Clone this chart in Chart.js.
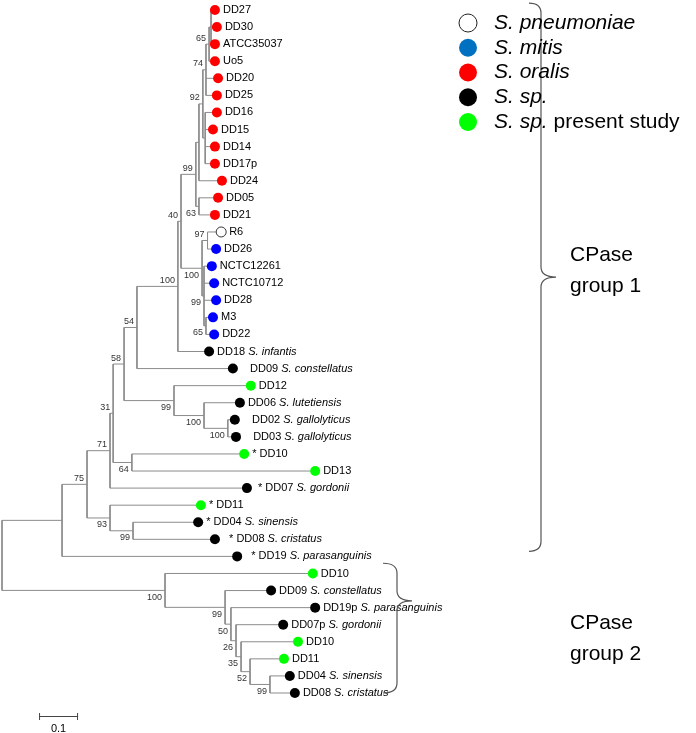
<!DOCTYPE html>
<html>
<head>
<meta charset="utf-8">
<script src="https://cdn.jsdelivr.net/npm/chart.js"></script>
<style>
  body { margin: 0; background: #fff; }
  canvas { display: block; }
</style>
</head>
<body>
<canvas id="tree" width="696" height="733"></canvas>
<script>
// leaves, top to bottom (row = index)
const leafNames = ['DD27', 'DD30', 'ATCC35037', 'Uo5', 'DD20', 'DD25', 'DD16', 'DD15', 'DD14', 'DD17p',
  'DD24', 'DD05', 'DD21', 'R6', 'DD26', 'NCTC12261', 'NCTC10712', 'DD28', 'M3', 'DD22',
  'DD18', '   DD09', 'DD12', 'DD06', '   DD02', '   DD03', '* DD10', 'DD13', ' * DD07', '* DD11',
  '* DD04', '  * DD08', '  * DD19',
  'DD10', 'DD09', 'DD19p', 'DD07p', 'DD10', 'DD11', 'DD04', 'DD08']
const leafSpecies = ['', '', '', '', '', '', '', '', '', '',
  '', '', '', '', '', '', '', '', '', '',
  'S. infantis', 'S. constellatus', '', 'S. lutetiensis', 'S. gallolyticus', 'S. gallolyticus', '', '', 'S. gordonii', '',
  'S. sinensis', 'S. cristatus', 'S. parasanguinis',
  '', 'S. constellatus', 'S. parasanguinis', 'S. gordonii', '', '', 'S. sinensis', 'S. cristatus']
const leafGroup = ['oralis', 'oralis', 'oralis', 'oralis', 'oralis', 'oralis', 'oralis', 'oralis', 'oralis', 'oralis',
  'oralis', 'oralis', 'oralis', 'pneumoniae', 'mitis', 'mitis', 'mitis', 'mitis', 'mitis', 'mitis',
  'sp', 'sp', 'present', 'sp', 'sp', 'sp', 'present', 'present', 'sp', 'present',
  'sp', 'sp', 'sp',
  'present', 'sp', 'sp', 'sp', 'present', 'present', 'sp', 'sp']
// distance from root to each leaf
const leafDist = [0.546, 0.551, 0.546, 0.546, 0.554, 0.551, 0.551, 0.541, 0.546, 0.546,
  0.564, 0.554, 0.546, 0.562, 0.549, 0.538, 0.544, 0.549, 0.541, 0.544,
  0.531, 0.592, 0.638, 0.610, 0.597, 0.600, 0.621, 0.803, 0.628, 0.510,
  0.503, 0.546, 0.603,
  0.797, 0.690, 0.803, 0.721, 0.759, 0.723, 0.738, 0.751]

// internal nodes: numbers in kids are leaf rows, strings are other nodes
const nodeNames = ['root', 'g1', 'n75', 'n71', 'n31', 'n58', 'n54', 'n100a', 'n40', 'n99b', 'norl', 'n92', 'n74', 'n65', 'nt', 'nb',
  'n63', 'n100m', 'n97', 'n99m', 'n65m', 'n99g', 'n100b', 'n100c', 'n64', 'n93', 'n99s',
  'g2', 'n99x', 'n50', 'n26', 'n35', 'n52', 'n99y']
const nodeDist = [0, 0.154, 0.218, 0.277, 0.285, 0.313, 0.346, 0.451, 0.459, 0.497, 0.505, 0.515, 0.523, 0.531, 0.536, 0.521,
  0.505, 0.513, 0.527, 0.518, 0.523, 0.441, 0.518, 0.579, 0.333, 0.277, 0.336,
  0.418, 0.572, 0.587, 0.600, 0.613, 0.636, 0.687]
const nodeKids = [['g1', 'g2'], ['n75', 32], ['n71', 'n93'], ['n31', 28], ['n58', 'n64'], ['n54', 'n99g'], ['n100a', 21],
  ['n40', 20], ['n99b', 'n100m'], ['norl', 'n63'], ['n92', 10], ['n74', 'nb'], ['n65', 4, 5], ['nt', 3], [0, 1, 2], [6, 7, 8, 9],
  [11, 12], ['n97', 'n99m'], [13, 14], [15, 16, 17, 'n65m'], [18, 19], [22, 'n100b'], [23, 'n100c'], [24, 25], [26, 27],
  [29, 'n99s'], [30, 31],
  [33, 'n99x'], [34, 'n50'], [35, 'n26'], [36, 'n35'], [37, 'n52'], [38, 'n99y'], [39, 40]]
const nodeBoot = [null, null, 75, 71, 31, 58, 54, 100, 40, 99, null, 92, 74, 65, null, null,
  63, 100, 97, 99, 65, 99, 100, 100, 64, 93, 99,
  100, 99, 50, 26, 35, 52, 99]

const groupKeys = ['pneumoniae', 'mitis', 'oralis', 'sp', 'present']
const dotColors = {pneumoniae: '#ffffff', mitis: '#0000ff', oralis: '#ff0000', sp: '#000000', present: '#00ff00'}
const legendColors = ['#ffffff', '#0070c0', '#ff0000', '#000000', '#00ff00']
const legendItalic = ['S. pneumoniae', 'S. mitis', 'S. oralis', 'S. sp.', 'S. sp.']
const legendPlain = ['', '', '', '', ' present study']
const groupLabels = [['CPase', 'group 1'], ['CPase', 'group 2']]
const scaleBar = 0.1

const FONT = '"Liberation Sans", Arial, sans-serif'

const nodeIndex = {}
nodeNames.forEach((n, i) => nodeIndex[n] = i)

function posOf(t) {
  if (typeof t === 'number') return {x: leafDist[t], y: t}
  const i = nodeIndex[t]
  const ks = nodeKids[i]
  return {x: nodeDist[i], y: (posOf(ks[0]).y + posOf(ks[ks.length - 1]).y) / 2}
}

const isFirstKid = {}
nodeKids.forEach(ks => ks.forEach((k, j) => { if (typeof k === 'string') isFirstKid[k] = j === 0 }))

const branchPts = []
nodeNames.forEach((n, i) => {
  const p = posOf(n)
  const ks = nodeKids[i].map(posOf)
  branchPts.push({x: p.x, y: ks[0].y}, {x: p.x, y: ks[ks.length - 1].y}, {x: p.x, y: null})
  ks.forEach(k => branchPts.push({x: p.x, y: k.y}, {x: k.x, y: k.y}, {x: k.x, y: null}))
})

function leafDataset(g) {
  const pts = []
  leafGroup.forEach((lg, i) => { if (lg === g) pts.push({x: leafDist[i], y: i}) })
  return {
    label: g,
    data: pts,
    order: 0,
    pointRadius: 5,
    pointHoverRadius: 5,
    pointBackgroundColor: dotColors[g],
    pointBorderColor: g === 'pneumoniae' ? '#333' : dotColors[g],
    pointBorderWidth: g === 'pneumoniae' ? 1 : 0,
    showLine: false,
  }
}

const treeText = {
  id: 'treeText',
  afterDatasetsDraw(chart) {
    const ctx = chart.ctx
    const xs = chart.scales.x, ys = chart.scales.y
    ctx.save()
    ctx.fillStyle = '#000'
    ctx.textBaseline = 'middle'
    // leaf labels
    leafNames.forEach((name, i) => {
      let px = xs.getPixelForValue(leafDist[i]) + 8
      const py = ys.getPixelForValue(i)
      ctx.font = '11px ' + FONT
      ctx.textAlign = 'left'
      ctx.fillText(name, px, py)
      if (leafSpecies[i]) {
        px += ctx.measureText(name + ' ').width
        ctx.font = 'italic 11px ' + FONT
        ctx.fillText(leafSpecies[i], px, py)
      }
    })
    // bootstrap values
    ctx.font = '9px ' + FONT
    ctx.fillStyle = '#333'
    ctx.textAlign = 'right'
    nodeNames.forEach((n, i) => {
      if (nodeBoot[i] == null) return
      const p = posOf(n)
      const px = xs.getPixelForValue(p.x) - 3
      const py = ys.getPixelForValue(p.y) + (isFirstKid[n] ? -6 : 7)
      ctx.fillText(String(nodeBoot[i]), px, py)
    })
    // braces
    ctx.strokeStyle = '#555'
    ctx.lineWidth = 1.2
    const brace = (x0, x1, tip, top, mid, bot) => {
      const r = 10
      ctx.beginPath()
      ctx.moveTo(x0, top)
      ctx.quadraticCurveTo(x1, top, x1, top + r)
      ctx.lineTo(x1, mid - r)
      ctx.quadraticCurveTo(x1, mid, tip, mid)
      ctx.quadraticCurveTo(x1, mid, x1, mid + r)
      ctx.lineTo(x1, bot - r)
      ctx.quadraticCurveTo(x1, bot, x0, bot)
      ctx.stroke()
    }
    brace(529, 541, 556, ys.getPixelForValue(-0.4), ys.getPixelForValue(15.64), ys.getPixelForValue(31.7))
    brace(383, 397, 412, ys.getPixelForValue(32.4), ys.getPixelForValue(34.6), ys.getPixelForValue(40.0))
    ctx.fillStyle = '#000'
    ctx.textAlign = 'left'
    ctx.font = '21px ' + FONT
    ctx.fillText(groupLabels[0][0], 570, 255)
    ctx.fillText(groupLabels[0][1], 570, 286)
    ctx.fillText(groupLabels[1][0], 570, 623)
    ctx.fillText(groupLabels[1][1], 570, 654)
    // legend
    legendItalic.forEach((t, i) => {
      const cy = 23 + i * 24.75
      ctx.beginPath()
      ctx.arc(468, cy, 9, 0, Math.PI * 2)
      ctx.fillStyle = legendColors[i]
      ctx.fill()
      if (i === 0) { ctx.strokeStyle = '#222'; ctx.lineWidth = 1; ctx.stroke() }
      ctx.fillStyle = '#000'
      ctx.font = 'italic 21px ' + FONT
      ctx.fillText(t, 494, cy)
      if (legendPlain[i]) {
        const w = ctx.measureText(t).width
        ctx.font = '21px ' + FONT
        ctx.fillText(legendPlain[i], 494 + w, cy)
      }
    })
    // scale bar
    const sx0 = xs.getPixelForValue(0.095), sx1 = xs.getPixelForValue(0.095 + scaleBar)
    ctx.strokeStyle = '#444'
    ctx.lineWidth = 1
    ctx.beginPath()
    ctx.moveTo(sx0, 716.5); ctx.lineTo(sx1, 716.5)
    ctx.moveTo(sx0 + 0.5, 713); ctx.lineTo(sx0 + 0.5, 720)
    ctx.moveTo(sx1 - 0.5, 713); ctx.lineTo(sx1 - 0.5, 720)
    ctx.stroke()
    ctx.fillStyle = '#000'
    ctx.font = '11px ' + FONT
    ctx.textAlign = 'center'
    ctx.fillText(String(scaleBar), (sx0 + sx1) / 2, 729)
    ctx.restore()
  }
}

new Chart(document.getElementById('tree'), {
  type: 'scatter',
  data: {
    datasets: [
      {
        label: 'branches',
        data: branchPts,
        order: 10,
        showLine: true,
        spanGaps: false,
        pointRadius: 0,
        borderColor: '#8c8c8c',
        borderWidth: 1,
      },
      ...groupKeys.map(leafDataset)
    ]
  },
  options: {
    responsive: false,
    animation: false,
    devicePixelRatio: 1,
    events: [],
    layout: { padding: 0, autoPadding: false },
    plugins: {
      legend: { display: false },
      tooltip: { enabled: false },
    },
    scales: {
      x: { type: 'linear', display: false, min: -2 / 390, max: 694 / 390 },
      y: { type: 'linear', display: false, reverse: true, min: -10 / 17.075, max: 723 / 17.075 },
    }
  },
  plugins: [treeText]
})
</script>
</body>
</html>
